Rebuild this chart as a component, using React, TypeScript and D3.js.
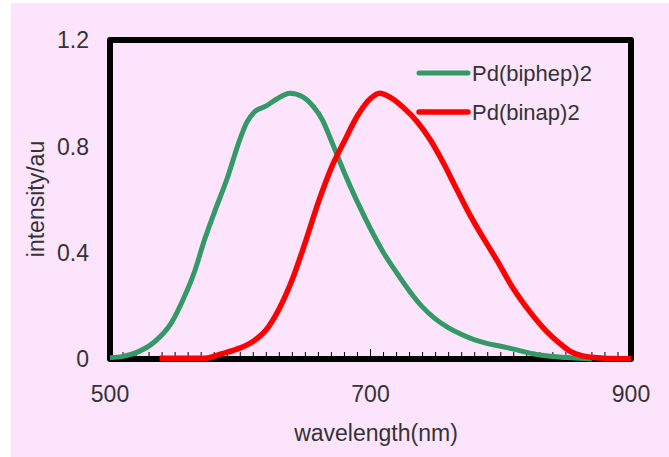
import * as d3 from 'd3'

// emission spectra
const biphepNm = [500, 510, 521, 534, 547, 557, 565, 572, 580, 590, 600, 605, 611, 620, 628, 638, 648, 656, 663, 670, 680, 690, 700, 710, 720, 730, 740, 750, 760, 770, 780, 790, 800, 810, 820, 830, 840, 850, 860, 870];
const biphepVal = [0.005, 0.01, 0.026, 0.064, 0.135, 0.233, 0.33, 0.44, 0.55, 0.68, 0.83, 0.89, 0.93, 0.952, 0.978, 1.0, 0.986, 0.95, 0.9, 0.82, 0.7, 0.59, 0.49, 0.4, 0.325, 0.255, 0.195, 0.15, 0.117, 0.092, 0.072, 0.058, 0.048, 0.037, 0.025, 0.015, 0.009, 0.006, 0.003, 0.0];

const binapNm = [538, 573, 586, 598, 611, 620, 630, 640, 650, 660, 670, 680, 690, 700, 707, 715, 725, 736, 746, 756, 766, 776, 786, 797, 809, 822, 835, 845, 853, 862, 874, 886, 900];
const binapVal = [0.003, 0.003, 0.02, 0.038, 0.07, 0.11, 0.19, 0.3, 0.44, 0.59, 0.72, 0.82, 0.915, 0.98, 1.0, 0.985, 0.947, 0.892, 0.824, 0.737, 0.64, 0.545, 0.46, 0.372, 0.27, 0.18, 0.105, 0.06, 0.03, 0.013, 0.005, 0.002, 0.001];

const seriesNames = ['Pd(biphep)2', 'Pd(binap)2'];
const xTicks = [500, 700, 900];
const yTicks = [0, 0.4, 0.8, 1.2];
const yTickLabels = ['0', '0.4', '0.8', '1.2'];

const W = 669, H = 457;
const L = 110, T = 40, R = 631, B = 359;
const font = '"Liberation Sans", Arial, sans-serif';
const ink = '#333';

export default function App() {
  const x = d3.scaleLinear().domain([500, 900]).range([L, R]);
  const y = d3.scaleLinear().domain([0, 1.2]).range([B, T]);

  const line = d3.line<[number, number]>()
    .x(d => x(d[0]))
    .y(d => y(d[1]))
    .curve(d3.curveMonotoneX);

  const greenPts = biphepNm.map((n, i) => [n, biphepVal[i]] as [number, number]);
  const redPts = binapNm.map((n, i) => [n, binapVal[i]] as [number, number]);

  const minor = d3.range(510, 900, 10);

  return (
    <svg width={W} height={H} style={{ position: 'absolute', left: 0, top: 0 }}>
      <rect x={0} y={0} width={W} height={H} fill="#fff" />
      <rect x={11} y={3} width={W - 11} height={H - 3} fill="#fde4fd" />

      {/* plot frame */}
      <rect x={L} y={T} width={R - L} height={B - T} fill="none" stroke="#000" strokeWidth={6} strokeLinejoin="round" />

      {/* inside ticks on the x axis */}
      {minor.map(v => (
        <line key={v} x1={x(v)} x2={x(v)} y1={B - 3} y2={B - (v % 200 === 100 ? 10 : 7)} stroke="#000" strokeWidth={1} />
      ))}

      <path d={line(greenPts) || ''} fill="none" stroke="#339966" strokeWidth={5} strokeLinejoin="round" />
      <path d={line(redPts) || ''} fill="none" stroke="#ff0000" strokeWidth={5.5} strokeLinejoin="round" />

      {/* tick labels */}
      {xTicks.map(v => (
        <text key={v} x={x(v)} y={402} textAnchor="middle" fontFamily={font} fontSize={23} fill={ink}>{v}</text>
      ))}
      {yTicks.map((v, i) => (
        <text key={v} x={89} y={y(v)} dy="0.36em" textAnchor="end" fontFamily={font} fontSize={23} fill={ink}>{yTickLabels[i]}</text>
      ))}

      <text x={376} y={441} textAnchor="middle" fontFamily={font} fontSize={23} fill={ink}>wavelength(nm)</text>
      <text transform="translate(44,199) rotate(-90)" textAnchor="middle" fontFamily={font} fontSize={23} fill={ink}>intensity/au</text>

      {/* legend */}
      <line x1={419} x2={468} y1={73} y2={73} stroke="#339966" strokeWidth={5} strokeLinecap="round" />
      <text x={472} y={73} dy="0.36em" fontFamily={font} fontSize={22} fill={ink}>{seriesNames[0]}</text>
      <line x1={419} x2={468} y1={112} y2={112} stroke="#ff0000" strokeWidth={5.5} strokeLinecap="round" />
      <text x={472} y={112} dy="0.36em" fontFamily={font} fontSize={22} fill={ink}>{seriesNames[1]}</text>
    </svg>
  );
}
